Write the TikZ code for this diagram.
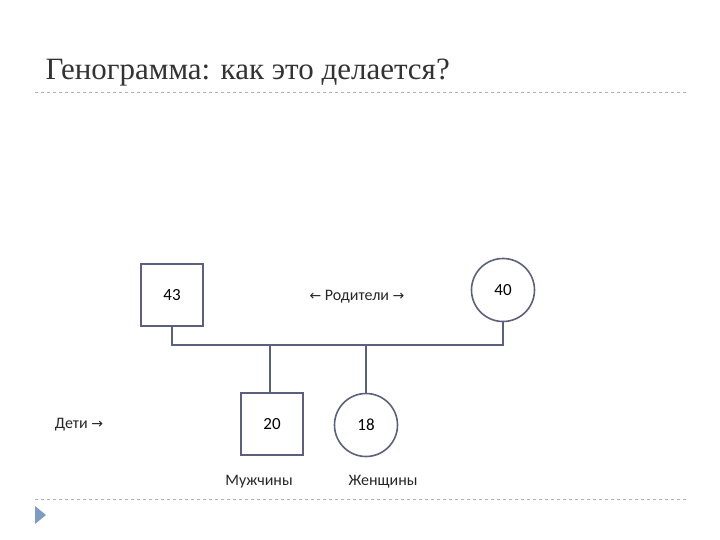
\documentclass[tikz,border=0pt]{standalone}
\usepackage{fontspec}
\setmainfont{Carlito}
\newfontfamily\titlefont{Liberation Serif}
\newfontfamily\symfont{DejaVu Sans}
\definecolor{ln}{HTML}{5C607E}
\definecolor{dl}{HTML}{B0B0B0}
\definecolor{tri}{HTML}{7D9CC0}
\begin{document}
\begin{tikzpicture}[x=1pt,y=-1pt,
  sq/.style={draw=ln,line width=1.6pt,minimum size=62pt,inner sep=0pt,font=\fontsize{17}{17}\selectfont},
  ci/.style={draw=ln,line width=1.6pt,circle,minimum size=63pt,inner sep=0pt,font=\fontsize{17}{17}\selectfont},
  lbl/.style={font=\fontsize{16}{16}\selectfont,text=black!85},
  conn/.style={draw=ln,line width=1.8pt}]
\useasboundingbox (0,0) rectangle (720,540);
\node[anchor=base west,font=\titlefont\fontsize{31}{31}\selectfont,text=black!80] (title) at (42,80) {Генограмма: как это делается?};
\draw[dl,dashed,line width=0.6pt] (35,92) -- (688,92);
\draw[dl,dashed,line width=0.6pt] (35,499) -- (688,499);
\fill[tri] (35,506) -- (46,515) -- (35,524) -- cycle;
\node[sq] (f) at (172,295) {43};
\node[ci] (m) at (503,290) {40};
\node[lbl] (par) at (357,297) {{\symfont\fontsize{14}{14}\selectfont ←} Родители {\symfont\fontsize{14}{14}\selectfont →}};
\node[sq] (s) at (272,424) {20};
\node[ci] (d) at (366,425) {18};
\node[lbl] (ml) at (259,482) {Мужчины};
\node[lbl] (fl) at (383,482) {Женщины};
\node[lbl] (ch) at (79,425) {Дети {\symfont\fontsize{14}{14}\selectfont →}};
\coordinate (j1) at (172,345);
\coordinate (j2) at (503,345);
\coordinate (j3) at (270,345);
\coordinate (j4) at (366,345);
\draw[conn] (f.south) -- (j1) -- (j2) -- (m.south);
\draw[conn] (j3) -- (j3 |- s.north);
\draw[conn] (j4) -- (d.north);
\end{tikzpicture}
\end{document}
